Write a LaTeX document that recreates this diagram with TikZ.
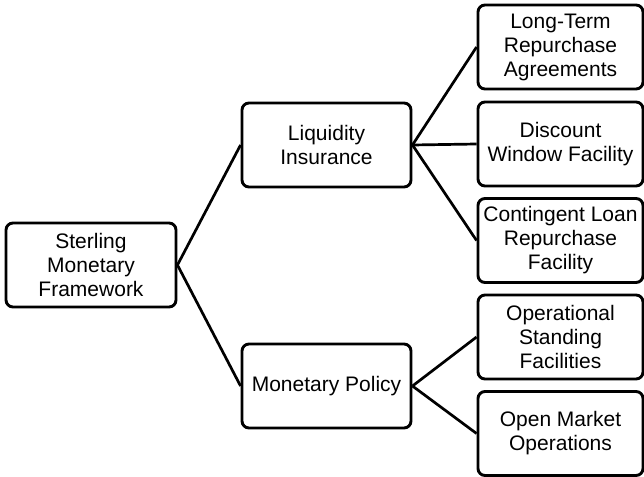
\documentclass[tikz,border=0pt]{standalone}
\usepackage{fontspec}
\setmainfont{Liberation Sans}
\begin{document}
\begin{tikzpicture}[x=1pt,y=-1pt,
  box/.style={draw=black, line width=2.9pt, rounded corners=7pt, align=center,
    inner sep=0pt, minimum height=84pt, font=\fontsize{21}{24}\selectfont},
  rootbox/.style={box, minimum width=170pt},
  midbox/.style={box, minimum width=169pt},
  leafbox/.style={box, minimum width=165pt},
  link/.style={draw=black, line width=2.7pt}]
\useasboundingbox (0,0) rectangle (644,476);
\node[rootbox] (root) at (91,265) {Sterling\\Monetary\\Framework};
\node[midbox] (liq) at (326.5,145) {Liquidity\\Insurance};
\node[midbox] (mon) at (326.5,386) {Monetary Policy};
\node[leafbox] (ltr) at (560.5,47) {Long-Term\\Repurchase\\Agreements};
\node[leafbox] (dwf) at (560.5,144) {Discount\\Window Facility};
\node[leafbox] (clr) at (560.5,240.5) {Contingent Loan\\Repurchase\\Facility};
\node[leafbox] (osf) at (560.5,337) {Operational\\Standing\\Facilities};
\node[leafbox] (omo) at (560.5,433.5) {Open Market\\Operations};
\draw[link] (root.east) -- (liq.west);
\draw[link] (root.east) -- (mon.west);
\draw[link] (liq.east) -- (ltr.west);
\draw[link] (liq.east) -- (dwf.west);
\draw[link] (liq.east) -- (clr.west);
\draw[link] (mon.east) -- (osf.west);
\draw[link] (mon.east) -- (omo.west);
\end{tikzpicture}
\end{document}
